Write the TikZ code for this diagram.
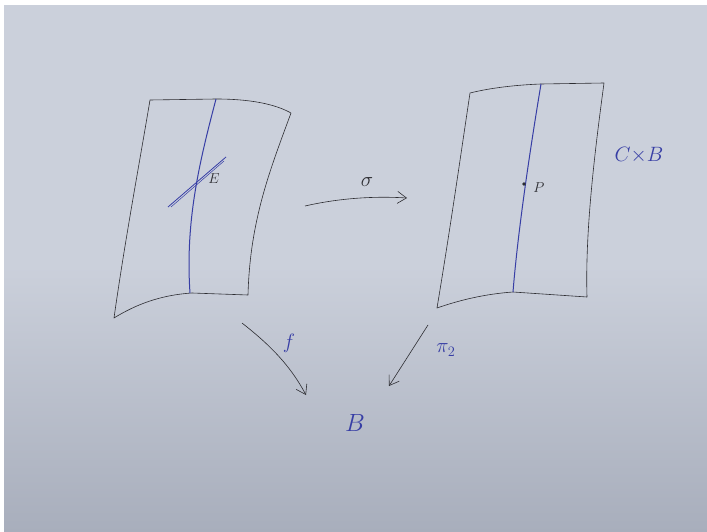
\documentclass[tikz,border=0pt]{standalone}
\usetikzlibrary{arrows.meta}
\definecolor{paper}{RGB}{203,208,219}
\definecolor{paperdark}{RGB}{168,174,188}
\definecolor{ink}{RGB}{55,62,165}
\definecolor{pencil}{RGB}{45,45,50}
\tikzset{
  sheet/.style={draw=pencil, line width=0.6pt, line join=round},
  fibre/.style={draw=ink, line width=1pt},
  maparrow/.style={draw=pencil, line width=0.6pt, -{Straight Barb[length=9pt,width=12pt]}},
  lbl/.style={text=ink, font=\huge, inner sep=0pt},
  smalllbl/.style={text=pencil, font=\Large, inner sep=0pt}
}
\begin{document}
\begin{tikzpicture}[x=1pt,y=-1pt]
\useasboundingbox (0,0) rectangle (707,532);
\shade[top color=paper, bottom color=paperdark, middle color=paper] (0,0) rectangle (707,532);
\fill[white] (0,0) rectangle (707,5);
\fill[white] (0,0) rectangle (4,532);

% left sheet (E)
\draw[sheet] (150,100) -- (216,99) .. controls (250,99) and (275,104) .. (291,113)
  .. controls (270,170) and (250,220) .. (248,295)
  -- (192,293) .. controls (160,295) and (135,305) .. (114,318)
  .. controls (125,240) and (140,160) .. (150,100) -- cycle;
\draw[fibre] (216,99) .. controls (200,160) and (185,220) .. (190,293);
\draw[fibre, line width=0.8pt] (168,207) -- (226,157);
\draw[fibre, line width=0.5pt] (171,207) -- (224,161);
\node[smalllbl] (E) at (214,179) {$E$};

% right sheet (C x B)
\draw[sheet] (470,93) .. controls (490,88) and (515,85) .. (541,84) -- (604,83)
  .. controls (595,150) and (585,230) .. (587,297)
  -- (513,292) .. controls (485,294) and (460,300) .. (437,308)
  .. controls (450,230) and (460,160) .. (470,93) -- cycle;
\draw[fibre] (541,84) .. controls (530,150) and (518,230) .. (513,292);
\fill[pencil] (524,184) circle (1.8pt);
\node[smalllbl] (P) at (539,188) {$P$};
\node[lbl] (CxB) at (639,155) {$C{\times}B$};

% sigma arrow
\coordinate (s0) at (305,206);
\coordinate (s1) at (407,198);
\draw[maparrow] (s0) .. controls (340,198) and (375,196) .. (s1);
\node[smalllbl, font=\huge] (sigma) at (367,182) {$\sigma$};

% f and pi2 arrows
\coordinate (f0) at (242,323);
\coordinate (f1) at (306,395);
\draw[maparrow] (f0) .. controls (270,345) and (290,365) .. (f1);
\node[lbl] (f) at (289,343) {$f$};
\coordinate (p0) at (428,325);
\coordinate (p1) at (389,386);
\draw[maparrow] (p0) -- (p1);
\node[lbl] (pi) at (446,350) {$\pi_2$};

\node[lbl, font=\Huge] (B) at (355,423) {$B$};
\end{tikzpicture}
\end{document}
